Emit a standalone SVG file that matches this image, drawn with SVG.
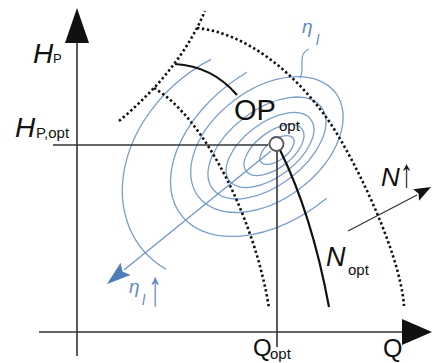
<svg xmlns="http://www.w3.org/2000/svg" width="432" height="363" viewBox="0 0 432 363">
<style>
.ax{stroke:#333;stroke-width:1.6;fill:none}
.k{stroke:#111;stroke-width:2.2;fill:none}
.dot{stroke:#111;stroke-width:2.6;fill:none;stroke-dasharray:2.4 2.6}
.c{stroke:#7b9ecc;stroke-width:1.3;fill:none}
.t{font-family:"Liberation Sans",Arial,sans-serif;fill:#111}
.i{font-style:italic}
.b{fill:#5f8ac4}
</style>
<rect width="432" height="363" fill="#fff"/>
<g id="contours">
<path class="c" d="M211,59.4 A140 109 -37 0 0 165.9,269.1"/>
<path class="c" d="M246.9,72.2 A118 75 -37 1 0 326.6,198.3"/>
<ellipse class="c" cx="266.9" cy="144.6" rx="86" ry="55" transform="rotate(-37 266.9 144.6)"/>
<ellipse class="c" cx="267" cy="148" rx="68" ry="38" transform="rotate(-37 267 148)"/>
<ellipse class="c" cx="270" cy="150" rx="51" ry="27" transform="rotate(-37 270 150)"/>
<ellipse class="c" cx="274" cy="150" rx="35" ry="18" transform="rotate(-37 274 150)"/>
<ellipse class="c" cx="277" cy="150" rx="20" ry="10" transform="rotate(-37 277 150)"/>
<path class="c" d="M309,49 Q302,52 302,60 L302,68 Q302,75 300,78"/>
</g>
<g id="dotted">
<path class="dot" d="M119,121 Q180,70 205,11"/>
<path class="dot" d="M197,28 C245,33 292,70 326,117 C350,150 400,250 404,306"/>
<path class="dot" d="M154,88 C205,118 255,220 269,308"/>
</g>
<g id="axes">
<line class="ax" x1="77" y1="356" x2="77" y2="40"/>
<polygon points="77,8 65,43 89,43" fill="#111"/>
<line class="ax" x1="39" y1="332" x2="405" y2="332"/>
<polygon points="432,332 402,319 402,345" fill="#111"/>
</g>
<g id="connectors">
<line class="ax" x1="53" y1="145" x2="268" y2="145"/>
<line class="ax" x1="277" y1="151" x2="277" y2="347"/>
<path class="k" d="M280,150 Q312,215 329,307"/>
<path class="k" d="M175,64 Q212,66 237,95"/>
<line x1="271" y1="151" x2="124" y2="270" stroke="#6f95c8" stroke-width="1.3"/>
<polygon points="107,284 120.6,262.7 122.5,271.4 130.6,275.1" fill="#4f7db8"/>
<line x1="348" y1="231" x2="417" y2="195" stroke="#333" stroke-width="1.3"/>
<polygon points="431,187 413,189.3 418.6,193.6 419,200.7" fill="#111"/>
</g>
<g id="op">
<circle cx="276.5" cy="144" r="7" fill="#fff" stroke="#555" stroke-width="1.8"/>
</g>
<g id="labels">
<text class="t i" x="33" y="63" font-size="28">H</text>
<text class="t" x="53" y="63" font-size="13">P</text>
<text class="t i" x="15" y="137" font-size="28">H</text>
<text class="t" x="36" y="138" font-size="15">P,opt</text>
<text class="t" x="234" y="120" font-size="29">OP</text>
<text class="t" x="279" y="131" font-size="15">opt</text>
<text class="t i" x="326" y="266" font-size="27">N</text>
<text class="t" x="348" y="275" font-size="15">opt</text>
<text class="t" x="253" y="356" font-size="24">Q</text>
<text class="t" x="270" y="359" font-size="15">opt</text>
<text class="t" x="383" y="357" font-size="25">Q</text>
<text class="t i" x="381" y="186" font-size="26">N</text>
<text class="t" transform="translate(400,187) scale(1,1.55)" font-size="26">↑</text>
<text class="t i b" x="302" y="33" font-size="19">η</text>
<text class="t i b" x="316" y="45" font-size="14">l</text>
<text class="t i b" x="129" y="293" font-size="19">η</text>
<text class="t i b" x="142" y="305" font-size="14">l</text>
<text class="t b" transform="translate(148,305) scale(1,1.8)" font-size="28">↑</text>
</g>
</svg>
